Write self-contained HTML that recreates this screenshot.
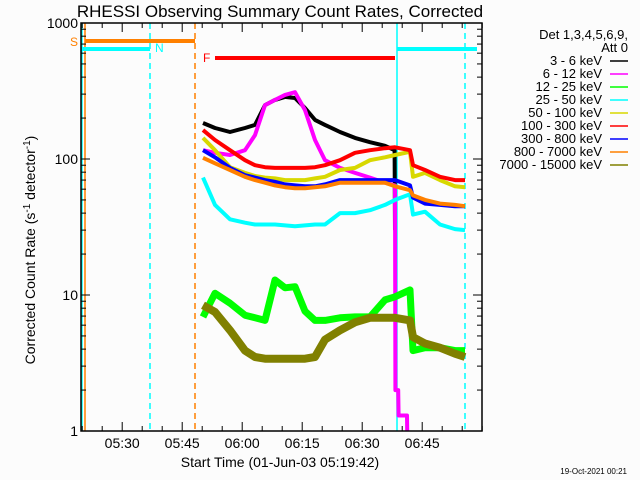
<!DOCTYPE html>
<html><head><meta charset="utf-8"><style>
body{margin:0;background:#fff;width:640px;height:480px;overflow:hidden}
svg text{font-family:"Liberation Sans",sans-serif}
</style></head><body>
<svg id="c" width="640" height="480" viewBox="0 0 640 480">
<rect width="640" height="480" fill="#fcfcfc"/>
<text x="280" y="17" font-size="17" text-anchor="middle">RHESSI Observing Summary Count Rates, Corrected</text>
<text transform="translate(35,250) rotate(-90)" font-size="14" text-anchor="middle">Corrected Count Rate (s<tspan dy="-5" font-size="10">-1</tspan><tspan dy="5"> detector</tspan><tspan dy="-5" font-size="10">-1</tspan><tspan dy="5">)</tspan></text>
<text x="280" y="467" font-size="14" text-anchor="middle">Start Time (01-Jun-03 05:19:42)</text>
<text x="627" y="474" font-size="8" text-anchor="end">19-Oct-2021 00:21</text>
<g id="plot"></g>
<g id="legend"></g>
</svg>
<script>
const times=[30.5,33.5,37.25,41,43.5,46,48.5,51,53.5,56,58.5,61,64.75,68.5,72.25,76,78.5,82.25,83,86,89.75,93.5,96];
const timesBlack=[30.5,33.5,37.25,41,43.5,46,48.5,51,53.5,56,58.5,61,64.75,68.5,72.25,76,78.4,78.5];
const s3_6=[184,169,158,169,178,249,272,286,281,237,194,178,158,143,133,125,116,30];
const timesMag=[30.5,33.5,37.25,41,43.5,46,48.5,51,53.5,56,58.5,61,64.75,68.5,72.25,76,78.5,78.6,79.3,79.4,81.5,81.6,82.8,82.9];
const s6_12=[116,111,107,116,150,249,272,296,310,229,138,98,86,79,73,67,64,2.0,2.0,1.3,1.3,0.8,0.8,0.5];
const s12_25=[6.9,10.3,8.7,7.1,6.8,6.5,12.9,11.3,11.5,7.6,6.5,6.5,6.8,6.9,6.9,9.2,9.7,10.9,3.9,4.1,4.1,3.9,3.9];
const s25_50=[73,46,36,34,33,33,33,32.5,32,32.5,33,33,40,40,42,46,50,55,39,41,33,30.5,30];
const s50_100=[143,116,87,79,75,73,72,70,70,70,72,74,83,86,98,103,107,113,74,79,70,63,62];
const s100_300=[163,138,116,98,90,87,86,86,86,86,87,90,98,111,116,120,122,116,90,83,74,70,70];
const s300_800=[116,103,86,76,73,70,68,65,64,63,63,65,70,70,70,70,70,64,52,47,46,45,45];
const s800_7000=[102,93,83,74,70,67,64,62,61,61,62,63,67,67,67,67,63,59,54,50,47,46,45];
const s7000_15000=[8.4,7.5,5.5,3.9,3.5,3.4,3.4,3.4,3.4,3.4,3.5,4.7,5.5,6.3,6.8,6.8,6.8,6.5,4.9,4.4,4.1,3.7,3.5];
const bandLabels=["3 - 6 keV","6 - 12 keV","12 - 25 keV","25 - 50 keV","50 - 100 keV","100 - 300 keV","300 - 800 keV","800 - 7000 keV","7000 - 15000 keV"];
const bandColors=["#000000","#ff00ff","#00ff00","#00ffff","#d8d800","#ff0000","#0000ff","#ff8000","#808000"];
const xTickLabels=["05:30","05:45","06:00","06:15","06:30","06:45"];
const xTickTimes=[10.3,25.3,40.3,55.3,70.3,85.3];
const yTickVals=[1,10,100,1000];
const vLineTimes=[0.25,1,17.25,28.5,79,96];
const vLineColors=["#00ffff","#ff8000","#00ffff","#ff8000","#00ffff","#00ffff"];
const vLineDash=[0,0,1,1,0,1];

const L=81,R=482,T=23,B=431;
const X=t=>L+4*t;
const Y=v=>B-136*Math.log10(v);
const NS="http://www.w3.org/2000/svg";
const plot=document.getElementById('plot');
function el(tag,a,p){const e=document.createElementNS(NS,tag);for(const k in a)e.setAttribute(k,a[k]);(p||plot).appendChild(e);return e;}
const clip=el('clipPath',{id:'cp'});el('rect',{x:L,y:T,width:R-L,height:B-T},clip);

vLineTimes.forEach((t,i)=>{
 const ln=el('line',{x1:X(t),x2:X(t),y1:T,y2:B,stroke:vLineColors[i],'stroke-width':1.5,'stroke-dasharray':vLineDash[i]?'6,4':'none'});
 
 
});
const bars=[[1,28.5,41,'#ff8000'],[0,17.25,49,'#00ffff'],[79,99,49,'#00ffff'],[33.5,78.5,58,'#ff0000']];
bars.forEach(b=>{const ln=el('line',{x1:X(b[0]),x2:Math.min(X(b[1]),R),y1:b[2],y2:b[2],stroke:b[3],'stroke-width':4});
 
 });
[['S',70,46,'#ff8000'],['N',155,52,'#00ffff'],['F',203,62,'#ff0000']].forEach(s=>{const tx=el('text',{x:s[1],y:s[2],fill:s[3],'font-size':12});tx.textContent=s[0];
 
 });

const series=[s3_6,s6_12,s12_25,s25_50,s50_100,s100_300,s300_800,s800_7000,s7000_15000];
const seriesTimes=[timesBlack,timesMag,times,times,times,times,times,times,times];
const widths=[4,4,7,4,4,4,4,4,8];
series.forEach((arr,i)=>{
 let d='',pen=false;const ts=seriesTimes[i];
 arr.forEach((v,j)=>{ if(v==null){pen=false;return;} d+=(pen?'L':'M')+X(ts[j]).toFixed(1)+','+Y(v).toFixed(1);pen=true;});
 const p=el('path',{d:d,fill:'none',stroke:bandColors[i],'stroke-width':widths[i],'stroke-linejoin':'round','clip-path':'url(#cp)'});
 
 
});

const fr=el('rect',{x:L,y:T,width:R-L,height:B-T,fill:'none',stroke:'#000','stroke-width':1.5});


for(let t=0.3;t<=100.5;t+=5){
 const major=xTickTimes.some(m=>Math.abs(m-t)<0.01);
 const h=major?9:5;
 el('line',{x1:X(t),x2:X(t),y1:B,y2:B-h,stroke:'#000'});
 el('line',{x1:X(t),x2:X(t),y1:T,y2:T+h,stroke:'#000'});
}
xTickLabels.forEach((s,i)=>{const tx=el('text',{x:X(xTickTimes[i]),y:448,'font-size':14,'text-anchor':'middle'});tx.textContent=s;
 
 });
yTickVals.forEach((v,i)=>{
 el('line',{x1:L,x2:L+9,y1:Y(v),y2:Y(v),stroke:'#000'});
 el('line',{x1:R,x2:R-9,y1:Y(v),y2:Y(v),stroke:'#000'});
 const tx=el('text',{x:L-3,y:Y(v)+5,'font-size':14,'text-anchor':'end'});tx.textContent=String(v);
 
 
 if(i<yTickVals.length-1)for(let k=2;k<10;k++){const y=Y(v*k);
  el('line',{x1:L,x2:L+5,y1:y,y2:y,stroke:'#000'});el('line',{x1:R,x2:R-5,y1:y,y2:y,stroke:'#000'});}
});

const lg=document.getElementById('legend');
[['Det 1,3,4,5,6,9,',39],['Att 0',52]].forEach(h=>{const tx=el('text',{x:628,y:h[1],'font-size':13,'text-anchor':'end'},lg);tx.textContent=h[0];
 
 });
bandLabels.forEach((s,i)=>{
 const y=61+13*i;
 const tx=el('text',{x:602,y:y+4,'font-size':13,'text-anchor':'end'},lg);tx.textContent=s;
 
 
 el('line',{x1:610,x2:628,y1:y,y2:y,stroke:bandColors[i],'stroke-width':1.5},lg);
});
</script>
</body></html>
